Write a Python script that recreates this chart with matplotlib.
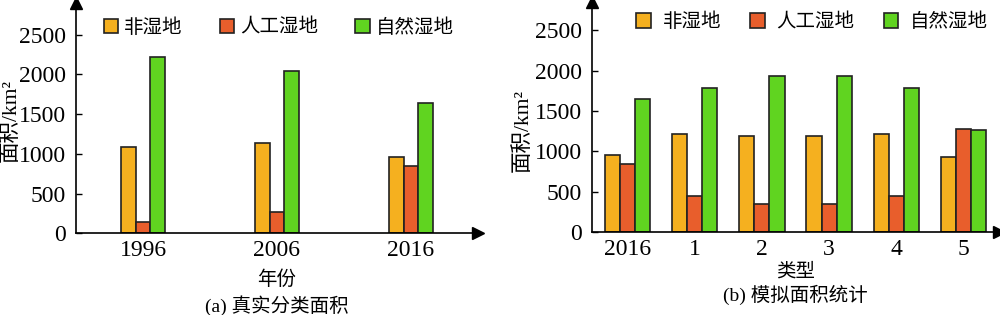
import numpy as np
import matplotlib
matplotlib.use('Agg')
import matplotlib.pyplot as plt

plt.rcParams['font.family'] = ['Liberation Serif', 'Noto Sans CJK SC']
plt.rcParams['font.size'] = 14
plt.rcParams['axes.unicode_minus'] = False

series = ['非湿地', '人工湿地', '自然湿地']
colors = ['#F5B01F', '#E85E2C', '#60D420']

# (a) real areas
years = ['1996', '2006', '2016']
real_non = [1085, 1131, 963]
real_art = [140, 266, 843]
real_nat = [2218, 2047, 1641]

# (b) simulated areas
types = ['2016', '1', '2', '3', '4', '5']
sim_non = [959, 1215, 1190, 1190, 1215, 934]
sim_art = [847, 442, 351, 351, 442, 1276]
sim_nat = [1644, 1789, 1929, 1929, 1789, 1260]

fig = plt.figure(figsize=(10, 3.15), dpi=100)
ax1 = fig.add_axes([0.076, 0.259, 0.402, 0.732])
ax2 = fig.add_axes([0.592, 0.264, 0.407, 0.729])


def draw(ax, labels, data, width, xlim, ylim, xlabel, xlab_y, ylab_xy, caption, cap_y, legend_kw):
    x = np.arange(len(labels))
    for i, (vals, name) in enumerate(zip(data, series)):
        ax.bar(x + (i - 1) * width, vals, width, color=colors[i],
               edgecolor='#222222', linewidth=1.2, label=name, zorder=2)
    ax.set_xlim(*xlim)
    ax.set_ylim(*ylim)
    ax.set_xticks(x)
    ax.set_xticklabels(labels)
    ax.set_yticks([0, 500, 1000, 1500, 2000, 2500])
    ax.tick_params(axis='x', length=0, pad=5, labelsize=17)
    ax.tick_params(axis='y', direction='in', length=4, width=1, pad=7, labelsize=17)
    for s in ['top', 'right']:
        ax.spines[s].set_visible(False)
    for s in ['left', 'bottom']:
        ax.spines[s].set_linewidth(1.2)
    ax.plot(1, 0, '>', color='black', ms=9, transform=ax.transAxes, clip_on=False)
    ax.plot(0, 1, '^', color='black', ms=9, transform=ax.transAxes, clip_on=False)
    ax.set_ylabel('面积/km²', fontsize=15.5)
    ax.yaxis.set_label_coords(*ylab_xy)
    ax.set_xlabel(xlabel)
    ax.xaxis.set_label_coords(0.5, xlab_y)
    ax.text(0.5, cap_y, caption, transform=ax.transAxes, ha='center', va='center',
            fontsize=14)
    ax.legend(frameon=False, ncol=3, handlelength=0.75, handleheight=0.75,
              borderaxespad=0.2, **legend_kw)


draw(ax1, years, [real_non, real_art, real_nat], 0.11, (-0.5, 2.5), (0, 2900),
     '年份', -0.159, (-0.137, 0.49), '(a) 真实分类面积', -0.315,
     dict(loc='upper left', bbox_to_anchor=(0.04, 0.985), handletextpad=0.3,
          columnspacing=1.9))
draw(ax2, types, [sim_non, sim_art, sim_nat], 0.225, (-0.53, 5.53), (0, 2850),
     '类型', -0.136, (-0.145, 0.44), '(b) 模拟面积统计', -0.276,
     dict(loc='upper left', bbox_to_anchor=(0.08, 1.005), handletextpad=0.6,
          columnspacing=1.5))

fig.savefig('out.png', dpi=100)
